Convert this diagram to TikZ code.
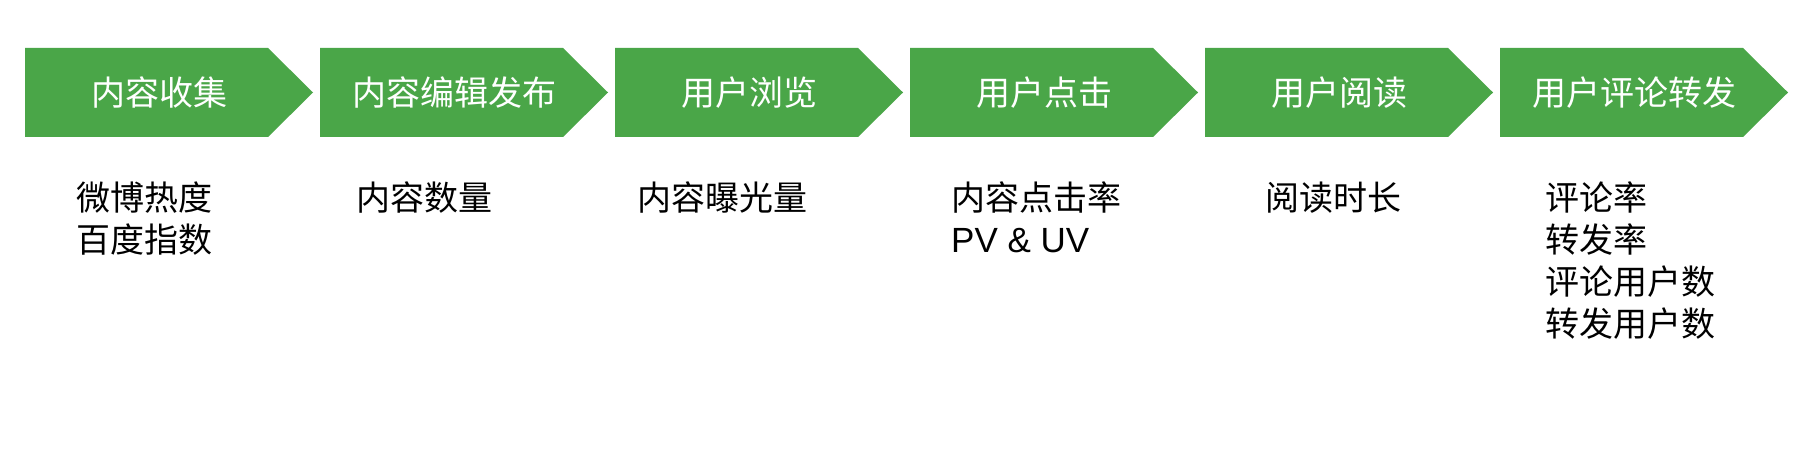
\documentclass[tikz,border=0pt]{standalone}
\usepackage{fontspec}
\newfontfamily\cjk{Noto Sans CJK SC}
\newfontfamily\lat{Liberation Sans}
\definecolor{chevgreen}{RGB}{74,166,72}
\tikzset{
  x=1pt, y=-1pt,
  chevron/.pic={\fill[chevgreen] (0,0) -- (243,0) -- (288,44.5) -- (243,89) -- (0,89) -- cycle;},
  steptitle/.style={text=white, inner sep=0pt, font=\cjk\fontsize{34}{42}\selectfont},
  metric/.style={text=black, inner sep=0pt, anchor=north west, align=left, font=\cjk\fontsize{34}{42}\selectfont},
}
\begin{document}
\begin{tikzpicture}
\useasboundingbox[fill=white] (0,0) rectangle (1812,470);
\foreach \i/\t in {0/内容收集,1/内容编辑发布,2/用户浏览,3/用户点击,4/用户阅读,5/用户评论转发}{
  \pic at ({25+295*\i},48) {chevron};
  \node[steptitle] (t\i) at ({25+295*\i+134},92.5) {\t};
}
\node[metric] (m0) at (76,182) {微博热度\\百度指数};
\node[metric] (m1) at (356,182) {内容数量};
\node[metric] (m2) at (637,182) {内容曝光量};
\node[metric] (m3) at (951,182) {内容点击率\\{\lat\fontsize{35}{42}\selectfont PV \& UV}};
\node[metric] (m4) at (1265,182) {阅读时长};
\node[metric] (m5) at (1545,182) {评论率\\转发率\\评论用户数\\转发用户数};
\end{tikzpicture}
\end{document}
